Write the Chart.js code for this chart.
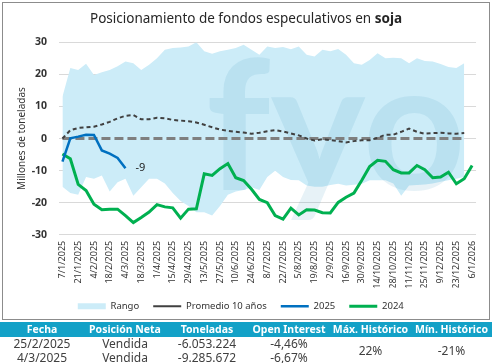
<!DOCTYPE html>
<html>
<head>
<meta charset="utf-8">
<script src="https://cdn.jsdelivr.net/npm/chart.js@4"></script>
<style>
  body { margin: 0; background: #fff; font-family: "Noto Sans", sans-serif; }
  #wrap { position: absolute; left: 3px; top: 3px; width: 486px; height: 318px; }
  #frame { position: absolute; left: 2px; top: 2px; width: 488px; height: 318px; box-sizing: border-box; border: 1px solid #8c8c8c; pointer-events: none; }
  table { position: absolute; left: 0; top: 322px; width: 492px; border-collapse: collapse; table-layout: fixed; }
  th { background: #13a1c7; color: #fff; font-size: 10.5px; font-weight: bold; height: 15px; padding: 0; line-height: 15px; white-space: nowrap; }
  td { font-size: 12px; color: #404040; text-align: center; padding: 0; height: 14px; line-height: 14px; }
</style>
</head>
<body>
<div id="wrap"><canvas id="grafico" width="486" height="318"></canvas></div>
<div id="frame"></div>
<table>
  <colgroup><col style="width:84px"><col style="width:82px"><col style="width:82px"><col style="width:82px"><col style="width:81px"><col style="width:81px"></colgroup>
  <tr><th>Fecha</th><th>Posición Neta</th><th>Toneladas</th><th>Open Interest</th><th>Máx. Histórico</th><th>Mín. Histórico</th></tr>
  <tr><td>25/2/2025</td><td>Vendida</td><td>-6.053.224</td><td>-4,46%</td><td rowspan="2">22%</td><td rowspan="2">-21%</td></tr>
  <tr><td>4/3/2025</td><td>Vendida</td><td>-9.285.672</td><td>-6,67%</td></tr>
</table>
<script>
// semanas (eje x)
const fechas = ['7/1/2025', '14/1/2025', '21/1/2025', '28/1/2025', '4/2/2025', '11/2/2025', '18/2/2025', '25/2/2025',
  '4/3/2025', '11/3/2025', '18/3/2025', '25/3/2025', '1/4/2025', '8/4/2025', '15/4/2025', '22/4/2025', '29/4/2025',
  '6/5/2025', '13/5/2025', '20/5/2025', '27/5/2025', '3/6/2025', '10/6/2025', '17/6/2025', '24/6/2025',
  '1/7/2025', '8/7/2025', '15/7/2025', '22/7/2025', '29/7/2025', '5/8/2025', '12/8/2025', '19/8/2025', '26/8/2025',
  '2/9/2025', '9/9/2025', '16/9/2025', '23/9/2025', '30/9/2025', '7/10/2025', '14/10/2025', '21/10/2025', '28/10/2025',
  '4/11/2025', '11/11/2025', '18/11/2025', '25/11/2025', '2/12/2025', '9/12/2025', '16/12/2025', '23/12/2025',
  '30/12/2025', '6/1/2026'];

// rango historico (max / min)
const rangoMax = [13, 22, 21.4, 23.3, 19.8, 20.7, 21.4, 22.5, 24, 23.5, 21.4, 23, 25, 27.7, 28.2, 28.4, 28.7, 30,
  27.2, 26.4, 27.2, 27.7, 28.2, 29.2, 27.7, 26.1, 28.7, 28.2, 28.5, 27.8, 28.7, 26.1, 25.6, 27.7, 27.2, 27.9,
  26.1, 23.5, 23, 24.5, 26.6, 25, 25.2, 25, 23.5, 25, 24.2, 24, 23.2, 22.3, 22, 23.5];
const rangoMin = [-15, -17, -17.5, -12, -12.5, -11.5, -16.5, -13.6, -12.5, -17.8, -15.2, -12.5, -12.5, -14, -17,
  -19.5, -21, -23, -23, -24, -21, -17.5, -16.5, -16, -15.2, -16, -12, -10, -12, -12.9, -13, -14.6, -15, -15,
  -14.5, -14.1, -14.6, -14.4, -14.1, -13, -13, -13, -14, -17.8, -14.6, -14.5, -14.3, -14, -13.5, -13, -12.5, -12];

// promedio 10 años y linea de cero
const promedio10 = [0, 2.6, 3.3, 3.5, 3.7, 4.4, 5.2, 6.3, 7.1, 7.3, 6, 6, 6.5, 6.3, 5.8, 5.6, 5.4, 5, 4.3, 3.5,
  2.8, 2.4, 2.1, 1.9, 1.5, 1.8, 2.3, 2.6, 2.2, 1.6, 1, 0, -0.6, -0.2, -0.5, -0.8, -1.2, -0.8, -0.5, -0.5, 0.2,
  1.2, 1.2, 2.1, 3.1, 2.1, 1.5, 1.7, 1.8, 1.6, 1.5, 1.7];
const cero = [0, 0, 0, 0, 0, 0, 0, 0, 0, 0, 0, 0, 0, 0, 0, 0, 0, 0, 0, 0, 0, 0, 0, 0, 0, 0,
  0, 0, 0, 0, 0, 0, 0, 0, 0, 0, 0, 0, 0, 0, 0, 0, 0, 0, 0, 0, 0, 0, 0, 0, 0, 0];

// campañas
const serie2025 = [-7.2, 0.1, 0.6, 1.2, 1.1, -3.7, -4.7, -6.05, -9.29];
const serie2024 = [-4.8, -6.3, -14.3, -16.2, -20.5, -22.2, -22, -22, -24, -26.2, -24.6, -22.9, -20.6, -21.3, -21.6,
  -24.8, -22, -21.9, -11, -11.5, -9.4, -7.8, -12.2, -13.1, -15.8, -19, -20, -24, -25.1, -21.7, -23.8, -22.2,
  -22.3, -23.1, -23.2, -19.9, -18.3, -17, -13, -8.7, -6.8, -7.1, -9.7, -10.7, -10.7, -8.4, -9.7, -12.2, -12,
  -10.5, -14.1, -12.5, -8.4];

Chart.defaults.font.family = '"Noto Sans", sans-serif';
Chart.defaults.color = '#333';

// titulo con "soja" en negrita + etiqueta del ultimo dato 2025
const tituloPlugin = {
  id: 'titulo',
  afterDraw(chart) {
    const c = chart.ctx;
    c.save();
    c.fillStyle = '#262626';
    c.textBaseline = 'middle';
    c.textAlign = 'left';
    const a = 'Posicionamiento de fondos especulativos en ';
    const b = 'soja';
    c.font = '13.5px "Noto Sans"';
    const wa = c.measureText(a).width;
    c.font = 'bold 13.5px "Noto Sans"';
    const wb = c.measureText(b).width;
    const x = chart.width / 2 - (wa + wb) / 2;
    c.font = '13.5px "Noto Sans"';
    c.fillText(a, x, 16);
    c.font = 'bold 13.5px "Noto Sans"';
    c.fillText(b, x + wa, 16);

    const meta = chart.getDatasetMeta(4);
    const last = meta.data[meta.data.length - 1];
    c.font = '11px "Noto Sans"';
    c.fillStyle = '#222';
    c.fillText(String(Math.round(serie2025[serie2025.length - 1])), last.x + 10, last.y);
    c.restore();
  }
};

// marca de agua sobre el rango
const marcaAgua = {
  id: 'marcaAgua',
  afterDatasetDraw(chart, args) {
    if (args.index !== 1) return;
    const c = chart.ctx;
    c.save();
    c.fillStyle = 'rgba(60,150,190,0.12)';
    c.font = 'bold 180px Lato';
    c.textBaseline = 'alphabetic';
    c.textAlign = 'left';
    c.fillText('fyo', 203, 187);
    c.restore();
  }
};

const ctx = document.getElementById('grafico').getContext('2d');

new Chart(ctx, {
  type: 'line',
  data: {
    labels: fechas,
    datasets: [
      { label: 'min', data: rangoMin, borderWidth: 0, pointRadius: 0, fill: false, backgroundColor: '#CCECF8', borderColor: '#CCECF8', order: 11 },
      { label: 'Rango', data: rangoMax, borderWidth: 0, pointRadius: 0, fill: '-1', backgroundColor: '#CCECF8', borderColor: '#CCECF8', pointStyle: 'rect', order: 10 },
      { label: 'cero', data: cero, borderColor: '#7F7F7F', borderWidth: 3, borderDash: [9, 4], pointRadius: 0, fill: false, order: 5 },
      { label: 'Promedio 10 años', data: promedio10, borderColor: '#404040', borderWidth: 2, borderDash: [4, 3], pointRadius: 0, pointStyle: 'line', fill: false, order: 4 },
      { label: '2025', data: serie2025, borderColor: '#0070C0', borderWidth: 2.5, pointRadius: 0, pointStyle: 'line', fill: false, order: 1 },
      { label: '2024', data: serie2024, borderColor: '#00B050', borderWidth: 3, pointRadius: 0, pointStyle: 'line', fill: false, order: 2 }
    ]
  },
  options: {
    responsive: false,
    animation: false,
    devicePixelRatio: 1,
    layout: { padding: { top: 39.3, right: 10.5, left: 0, bottom: 0 } },
    plugins: {
      title: { display: false },
      tooltip: { enabled: false },
      legend: {
        position: 'bottom',
        labels: {
          usePointStyle: true,
          pointStyleWidth: 28,
          boxHeight: 6,
          padding: 14,
          font: { size: 9.5 },
          color: '#333',
          filter: (item) => [1, 3, 4, 5].includes(item.datasetIndex),
          sort: (a, b) => a.datasetIndex - b.datasetIndex
        }
      }
    },
    scales: {
      x: {
        offset: true,
        grid: { display: false, drawTicks: false },
        border: { display: false },
        ticks: {
          autoSkip: false,
          maxRotation: 90,
          minRotation: 90,
          padding: 6,
          font: { size: 9 },
          color: '#333',
          callback: function (v, i) { return i % 2 === 0 ? this.getLabelForValue(v) : ''; }
        },
        afterFit(scale) { scale.height = 52.7; }
      },
      y: {
        min: -30,
        max: 30,
        ticks: { stepSize: 10, padding: 11.5, font: { size: 10.5, weight: 'bold' }, color: '#333' },
        grid: { color: '#D9D9D9', drawTicks: false },
        border: { display: false },
        title: { display: true, text: 'Millones de toneladas', font: { size: 10 }, color: '#333', padding: { top: 13, bottom: 0 } },
        afterFit(scale) { scale.width = 55.5; }
      }
    }
  },
  plugins: [tituloPlugin, marcaAgua]
});
</script>
</body>
</html>
